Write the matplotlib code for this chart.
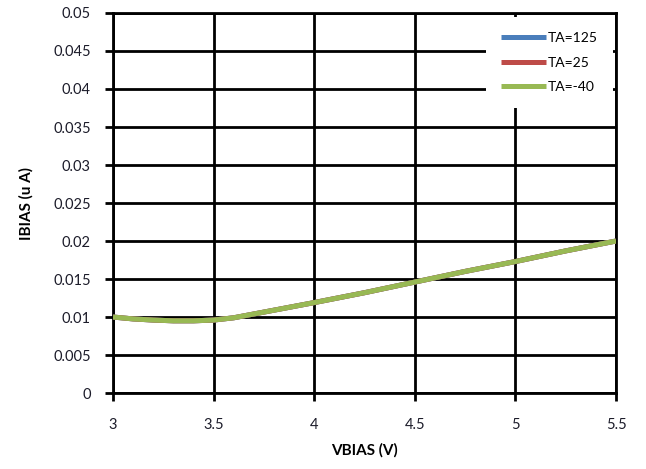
import matplotlib.pyplot as plt

# bias current vs bias voltage, three temperatures
vbias = [3.0, 3.1, 3.2, 3.3, 3.4, 3.5, 3.6, 3.7, 3.8, 3.9, 4.0,
         4.25, 4.5, 4.75, 5.0, 5.25, 5.5]
ibias_125 = [0.0100, 0.00975, 0.0096, 0.0095, 0.0095, 0.0096, 0.0099, 0.0104, 0.0109,
             0.0114, 0.0119, 0.0132, 0.0146, 0.0160, 0.0173, 0.0187, 0.0200]
ibias_25 = [0.0100, 0.00975, 0.0096, 0.0095, 0.0095, 0.0096, 0.0099, 0.0104, 0.0109,
            0.0114, 0.0119, 0.0132, 0.0146, 0.0160, 0.0173, 0.0187, 0.0200]
ibias_m40 = [0.0100, 0.00975, 0.0096, 0.0095, 0.0095, 0.0096, 0.0099, 0.0104, 0.0109,
             0.0114, 0.0119, 0.0132, 0.0146, 0.0160, 0.0173, 0.0187, 0.0200]
labels = ['TA=125', 'TA=25', 'TA=-40']
colors = ['#4a7ebb', '#be4b48', '#98b954']

xticks = [3, 3.5, 4, 4.5, 5, 5.5]
xticklabels = ['3', '3.5', '4', '4.5', '5', '5.5']
yticks = [0, 0.005, 0.01, 0.015, 0.02, 0.025, 0.03, 0.035, 0.04, 0.045, 0.05]
yticklabels = ['0', '0.005', '0.01', '0.015', '0.02', '0.025', '0.03', '0.035',
               '0.04', '0.045', '0.05']

plt.rcParams['font.family'] = ['Lato', 'DejaVu Sans']

fig = plt.figure(figsize=(6.46, 4.69), dpi=100)
ax = fig.add_axes([0.175, 0.162, 0.7786, 0.8103])

for ys, lab, c in zip([ibias_125, ibias_25, ibias_m40], labels, colors):
    ax.plot(vbias, ys, color=c, lw=3.6, label=lab, solid_capstyle='butt', zorder=3)

ax.set_xlim(3, 5.5)
ax.set_ylim(0, 0.05)
ax.set_xticks(xticks)
ax.set_xticklabels(xticklabels)
ax.set_yticks(yticks)
ax.set_yticklabels(yticklabels)
ax.grid(True, color='black', lw=2.0)
ax.set_axisbelow(True)
for s in ax.spines.values():
    s.set_color('black')
    s.set_linewidth(2.0)
ax.tick_params(axis='both', direction='out', length=6, width=2.0, colors='black',
               labelcolor='#1c1c2a', labelsize=10.5)
ax.tick_params(axis='y', pad=10)
ax.tick_params(axis='x', pad=12)

ax.set_xlabel('VBIAS (V)', fontsize=11, fontweight='bold', labelpad=8)
ax.set_ylabel('IBIAS (u A)', fontsize=11, fontweight='bold', labelpad=14)

leg = ax.legend(loc='upper right', bbox_to_anchor=(0.994, 0.99), borderaxespad=0,
                frameon=True, fontsize=10, handlelength=3.2, handletextpad=0.15,
                labelspacing=0.9, borderpad=1.1)
leg.get_frame().set_facecolor('white')
leg.get_frame().set_edgecolor('none')
leg.get_frame().set_alpha(1)
leg.get_frame().set_boxstyle('square', pad=0)
for h in leg.get_lines():
    h.set_linewidth(3.6)

fig.savefig('out.png', dpi=100)
